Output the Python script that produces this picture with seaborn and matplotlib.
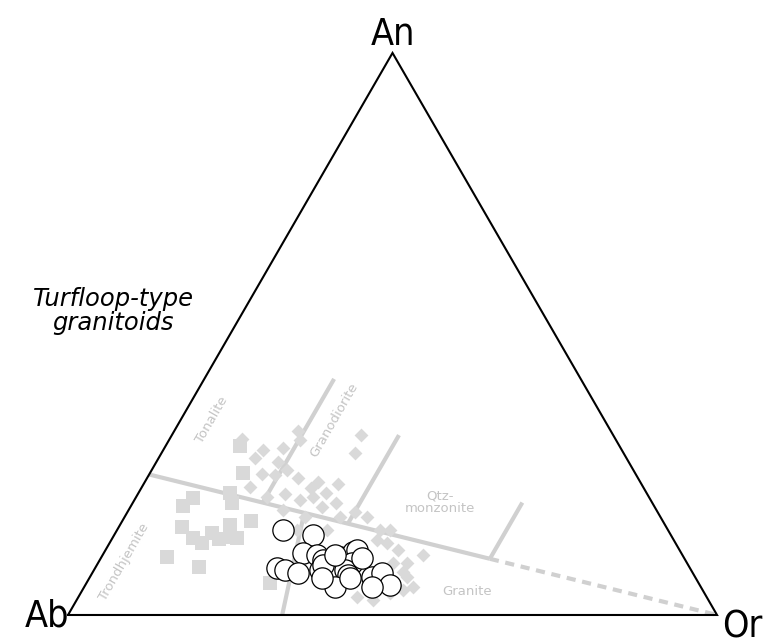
import numpy as np
import pandas as pd
import matplotlib
matplotlib.use("Agg")
import matplotlib.pyplot as plt
import seaborn as sns

# compositions in percent; Ab = 100 - An - Or
square_an = [30.1, 25.3, 20.8, 19.4, 21.7, 19.9, 16.7, 15.7, 13.7, 12.8,
             14.6, 13.5, 16.0, 13.9, 13.7, 10.3, 8.5, 5.7]
square_or = [11.4, 14.3, 8.9, 8.0, 14.1, 15.3, 19.8, 9.7, 12.4, 14.2,
             14.9, 16.5, 17.0, 18.0, 19.2, 10.1, 15.9, 28.3]

diamond_an = [32.7, 32.0, 28.8, 31.3, 27.9, 29.4, 25.1, 29.7, 27.2, 25.8,
              24.9, 24.4, 23.7, 23.3, 21.7, 22.6, 21.5, 20.5, 21.0, 19.2,
              19.9, 18.3, 17.4, 17.4, 15.1, 15.1, 13.3, 12.8, 10.7, 9.25,
              9.25, 6.76, 4.45, 5.0, 3.9, 2.7, 3.2, 5.0, 9.8, 15.1,
              17.4, 15.1, 18.7, 21.0, 22.8, 31.1, 7.65, 11.6]
diamond_or = [19.1, 29.1, 29.8, 11.2, 14.8, 15.3, 17.3, 18.3, 18.8, 20.8,
              19.5, 23.2, 26.6, 29.9, 28.9, 26.1, 22.7, 25.5, 27.2, 29.5,
              31.4, 35.0, 33.2, 37.4, 40.5, 42.1, 41.0, 42.75, 49.35, 47.6,
              45.5, 48.8, 49.4, 50.7, 47.7, 45.65, 42.9, 38.3, 33.9, 32.4,
              27.8, 27.7, 23.8, 20.2, 16.6, 20.2, 47.8, 45.0]

circle_an = [15.1, 14.2, 11.0, 10.7, 9.8, 10.3, 11.2, 11.6, 9.25, 8.0,
             8.4, 8.0, 7.5, 8.0, 7.1, 5.0, 6.8, 7.5, 5.3, 5.0,
             8.9, 10.7, 10.1, 6.6, 6.6]
circle_or = [25.6, 30.65, 30.7, 33.0, 34.4, 36.75, 38.3, 38.7, 39.2, 38.7,
             28.0, 29.4, 31.7, 34.8, 39.6, 38.6, 43.4, 44.6, 47.0, 44.3,
             34.85, 35.8, 40.25, 40.1, 35.8]

# field boundaries (An, Or) pairs
solid_lines = [
    ((25, 0), (10, 60)),
    ((20, 20), (42, 20)),
    ((16.25, 35), (32, 35)),
    ((10, 60), (20, 60)),
    ((0, 33), (18.2, 27.3)),
]
dashed_lines = [((10, 60), (0, 100))]

field_names = ["Tonalite", "Granodiorite", "Trondhjemite", "Qtz-\nmonzonite", "Granite"]
field_an = [34.7, 34.7, 9.4, 20.1, 4.1]
field_or = [4.8, 23.6, 3.9, 47.3, 59.4]
field_rot = [60, 60, 60, 0, 0]

H = np.sqrt(3) / 2


def to_xy(an, orr):
    an = np.asarray(an, dtype=float)
    orr = np.asarray(orr, dtype=float)
    return orr + an / 2, an * H


sns.set_theme(style="white")
plt.rcParams["font.family"] = ["DejaVu Sans"]
plt.rcParams["text.color"] = "black"

fig = plt.figure(figsize=(7.67, 6.44), dpi=100)
ax = fig.add_axes([0, 0, 1, 1])
ax.set_xlim(-10.48, 107.7)
ax.set_ylim(-4.47, 94.76)
ax.axis("off")

line_grey = "#d0d0d0"
for (a1, o1), (a2, o2) in solid_lines:
    x, y = to_xy([a1, a2], [o1, o2])
    ax.plot(x, y, color=line_grey, lw=3.0, solid_capstyle="butt", zorder=1)
for (a1, o1), (a2, o2) in dashed_lines:
    x, y = to_xy([a1, a2], [o1, o2])
    ax.plot(x, y, color=line_grey, lw=3.0, ls=(0, (2.2, 1.6)), zorder=1)

for name, a, o, rot in zip(field_names, field_an, field_or, field_rot):
    x, y = to_xy(a, o)
    ax.text(x, y, name, rotation=rot, ha="center", va="center", fontsize=9.5,
            color="#c4c4c4", linespacing=0.9, zorder=1.5)

sq = pd.DataFrame(dict(zip(["x", "y"], to_xy(square_an, square_or))))
di = pd.DataFrame(dict(zip(["x", "y"], to_xy(diamond_an, diamond_or))))
ci = pd.DataFrame(dict(zip(["x", "y"], to_xy(circle_an, circle_or))))

sns.scatterplot(data=sq, x="x", y="y", marker="s", s=90, color="#d9d9d9",
                linewidth=0, ax=ax, zorder=2, legend=False)
sns.scatterplot(data=di, x="x", y="y", marker="D", s=50, color="#d9d9d9",
                linewidth=0, ax=ax, zorder=2, legend=False)
sns.scatterplot(data=ci, x="x", y="y", marker="o", s=235, facecolor="white",
                edgecolor="black", linewidth=0.9, ax=ax, zorder=3, legend=False)

# triangle frame
tx, ty = to_xy([0, 0, 100, 0], [0, 100, 0, 0])
ax.plot(tx, ty, color="black", lw=1.5, zorder=4, solid_joinstyle="miter")

vx, vy = to_xy([100, 0, 0], [0, 0, 100])
ax.annotate("An", (vx[0], vy[0]), xytext=(0, 6), textcoords="offset points",
            ha="center", va="baseline", fontsize=27, fontstretch="condensed",
            color="black")
ax.annotate("Ab", (vx[1], vy[1]), xytext=(1, -8.5), textcoords="offset points",
            ha="right", va="baseline", fontsize=27, fontstretch="condensed",
            color="black")
ax.annotate("Or", (vx[2], vy[2]), xytext=(4, -16), textcoords="offset points",
            ha="left", va="baseline", fontsize=27, fontstretch="condensed",
            color="black")

fig.text(113 / 767, 1 - 311 / 644, "Turfloop-type\ngranitoids", ha="center",
         va="center", fontsize=17.5, style="italic", linespacing=1.05,
         color="black")

ax.set_xlabel("")
ax.set_ylabel("")
fig.savefig("out.png", dpi=100)
